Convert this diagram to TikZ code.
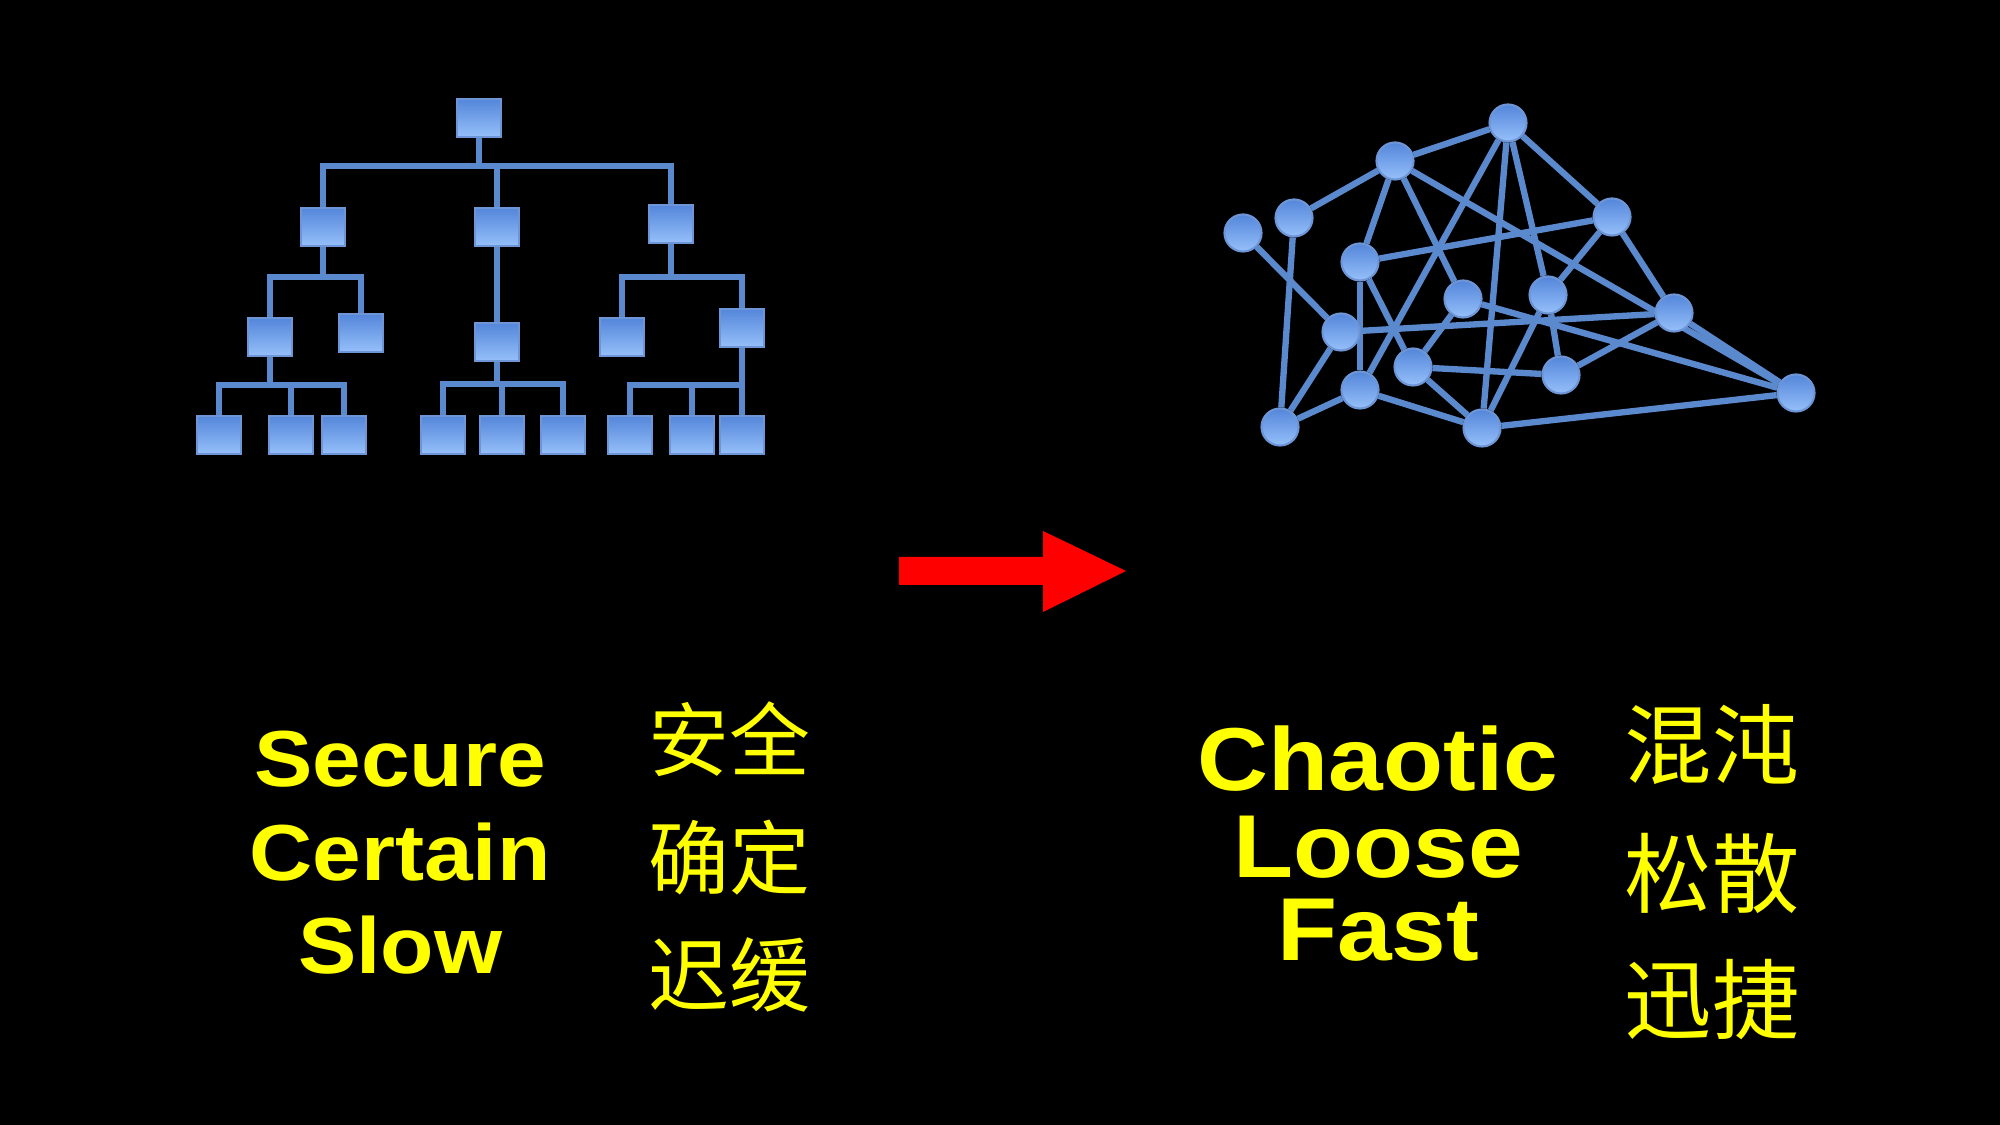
\documentclass[tikz,border=0pt]{standalone}
\usepackage{fontspec}
\setmainfont{Liberation Sans}
\newfontfamily\cjk{Noto Sans CJK SC}
\usetikzlibrary{backgrounds}
\definecolor{linkblue}{RGB}{91,137,206}
\definecolor{boxtop}{RGB}{84,134,218}
\definecolor{boxbot}{RGB}{150,192,250}
\definecolor{boxedge}{RGB}{110,150,215}
\definecolor{txtyellow}{RGB}{255,255,0}
\definecolor{arrowred}{RGB}{255,0,0}

\begin{document}
\begin{tikzpicture}[x=0.01cm, y=-0.01cm,
    box/.style={draw=boxedge, line width=0.6pt, top color=boxtop, bottom color=boxbot,
        minimum width=0.44cm, minimum height=0.38cm, inner sep=0pt},
    ball/.style={circle, draw=boxedge, line width=0.6pt, top color=boxtop, bottom color=boxbot,
        minimum size=0.37cm, inner sep=0pt},
    link/.style={draw=linkblue, line width=1.8pt},
    eng/.style={text=txtyellow, inner sep=0pt, anchor=base,
        font=\bfseries\fontsize{22.6pt}{26pt}\selectfont},
    engbig/.style={eng, font=\bfseries\fontsize{25.4pt}{28pt}\selectfont},
    zh/.style={text=txtyellow, inner sep=0pt, font=\cjk\fontsize{23pt}{23pt}\selectfont},
    zhbig/.style={zh, font=\cjk\fontsize{24.8pt}{25pt}\selectfont}]
        % Black slide
        \begin{scope}[on background layer]
            \fill[black] (0,0) rectangle (2000,1125);
        \end{scope}
        \useasboundingbox (0,0) rectangle (2000,1125);
        % Draw the hierarchy
        \node[box] (root) at (479,118) {};
        \node[box] (ta) at (323,227) {};
        \node[box] (tb) at (497,227) {};
        \node[box] (tc) at (671,224) {};
        \node[box] (taa) at (270,337) {};
        \node[box] (tab) at (361,333) {};
        \node[box] (tba) at (497,342) {};
        \node[box] (tca) at (622,337) {};
        \node[box] (tcb) at (742,328) {};
        \foreach \n/\x in {taa1/219, taa2/291, taa3/344, tba1/443, tba2/502,
                tba3/563, tcb1/630, tcb2/692, tcb3/742}
            \node[box] (\n) at (\x,435) {};
        \begin{scope}[on background layer]
            \foreach \p/\c/\y in {root/ta/166, root/tb/166, root/tc/166,
                    ta/taa/277, ta/tab/277, tb/tba/277, tc/tca/277, tc/tcb/277,
                    taa/taa1/385, taa/taa2/385, taa/taa3/385,
                    tba/tba1/384, tba/tba2/384, tba/tba3/384,
                    tcb/tcb1/385, tcb/tcb2/385, tcb/tcb3/385}
                \draw[link] (\p) -- (\p |- 0,\y) -| (\c);
        \end{scope}
        % Draw the network
        \foreach \n/\x/\y in {n1/1508/123, n2/1395/161, n3/1294/218, n4/1243/233,
                n5/1612/217, n6/1360/262, n7/1463/299, n8/1548/295, n9/1674/313,
                n10/1341/332, n11/1413/367, n12/1561/375, n13/1360/390,
                n14/1796/393, n15/1280/427, n16/1482/428}
            \node[ball] (\n) at (\x,\y) {};
        \begin{scope}[on background layer]
            \foreach \a/\b in {n1/n2, n1/n16, n1/n8, n1/n5, n1/n13,
                    n2/n3, n2/n6, n2/n7, n2/n14, n3/n15, n4/n10,
                    n5/n6, n5/n8, n5/n9, n6/n13, n6/n11, n7/n11, n7/n14,
                    n8/n12, n8/n16, n9/n10, n9/n12, n9/n14, n10/n15,
                    n11/n12, n11/n16, n13/n15, n13/n16, n14/n16}
                \draw[link] (\a) -- (\b);
        \end{scope}
        % The arrow
        \fill[arrowred] (899,557) -- (1043,557) -- (1043,531) -- (1126,571)
            -- (1043,612) -- (1043,585) -- (899,585) -- cycle;
        % Add the words
        \node[eng] (secure) at (400,787) {\scalebox{1.1}[1]{Secure}};
        \node[eng] (certain) at (400,880) {\scalebox{1.1}[1]{Certain}};
        \node[eng] (slow) at (400,973) {\scalebox{1.1}[1]{Slow}};
        \node[zh] (anquan) at (729,739) {安全};
        \node[zh] (queding) at (729,858) {确定};
        \node[zh] (chihuan) at (729,975) {迟缓};
        \node[engbig] (chaotic) at (1378,790) {\scalebox{1.1}[1]{Chaotic}};
        \node[engbig] (loose) at (1378,877) {\scalebox{1.1}[1]{Loose}};
        \node[engbig] (fast) at (1378,960) {\scalebox{1.1}[1]{Fast}};
        \node[zhbig] (hundun) at (1712,745) {混沌};
        \node[zhbig] (songsan) at (1712,873) {松散};
        \node[zhbig] (xunjie) at (1712,1000) {迅捷};
    \end{tikzpicture}
\end{document}
